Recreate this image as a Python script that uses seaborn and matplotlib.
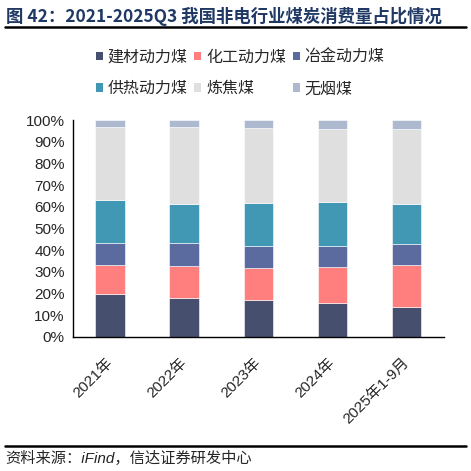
import numpy as np
import matplotlib
matplotlib.use("Agg")
import matplotlib.pyplot as plt
import seaborn as sns
from matplotlib.patches import Patch
from matplotlib.lines import Line2D

sns.set_theme(style="white")
plt.rcParams["font.family"] = ["Liberation Sans", "Noto Sans CJK SC"]

# Data (share of non-power coal consumption, %)
years = ["2021年", "2022年", "2023年", "2024年", "2025年1-9月"]
series = ["建材动力煤", "化工动力煤", "冶金动力煤", "供热动力煤", "炼焦煤", "无烟煤"]
jiancai = [19.7, 18.0, 16.9, 15.4, 13.8]
huagong = [13.4, 14.6, 14.8, 16.8, 19.1]
yejin = [10.3, 10.5, 10.3, 9.6, 10.0]
gongre = [19.7, 18.4, 19.7, 20.5, 18.5]
lianjiao = [33.8, 35.1, 34.8, 33.7, 34.3]
wuyan = [3.1, 3.4, 3.5, 4.0, 4.3]
values = [jiancai, huagong, yejin, gongre, lianjiao, wuyan]
colors = ["#464F6E", "#FF7F7F", "#5B6BA0", "#4198B5", "#DFDFDF", "#ADB9CF"]

fig = plt.figure(figsize=(4.71, 4.71), dpi=100)
ax = fig.add_axes([0.155, 0.285, 0.787, 0.46])

bottom = np.zeros(len(years))
for name, vals, c in zip(series, values, colors):
    sns.barplot(x=years, y=vals, bottom=bottom, color=c, width=0.4,
                edgecolor="white", linewidth=0.4, saturation=1, ax=ax)
    bottom = bottom + np.array(vals)

ax.set_ylim(0, 100)
ax.set_xlim(-0.5, len(years) - 0.5)
ax.set_yticks(np.arange(0, 101, 10))
ax.set_yticklabels([f"{v}%" for v in range(0, 101, 10)], fontsize=11)
ax.set_xticks(range(len(years)))
ax.set_xticklabels(years, fontsize=11, rotation=45, ha="right",
                   va="center", rotation_mode="anchor")
ax.set_xticks(np.arange(-0.5, len(years), 1), minor=True)
ax.tick_params(axis="x", which="major", length=0, pad=17)
ax.tick_params(axis="x", which="minor", length=4, width=1, direction="out", color="black")
ax.tick_params(axis="y", length=4, width=1, direction="out", color="black", pad=2)
for s in ["top", "right"]:
    ax.spines[s].set_visible(False)
for s in ["left", "bottom"]:
    ax.spines[s].set_color("black")
    ax.spines[s].set_linewidth(1)
ax.set_xlabel("")
ax.set_ylabel("")

# legend filled row by row (3 columns)
order = [0, 3, 1, 4, 2, 5]
handles = [Patch(facecolor=colors[i], edgecolor="none") for i in order]
labels = [series[i] for i in order]
fig.legend(handles, labels, loc="center", bbox_to_anchor=(0.51, 0.845), ncol=3,
           frameon=False, handlelength=0.45, handleheight=0.45,
           handletextpad=0.3, columnspacing=0.4, labelspacing=0.9,
           prop={"family": ["Noto Sans CJK SC"], "size": 11.5})

fig.text(0.012, 0.965, "图 42：2021-2025Q3 我国非电行业煤炭消费量占比情况",
         fontsize=12.5, fontweight="bold", color="#1F3864",
         family=["Noto Sans CJK SC"], va="center", ha="left")
fig.add_artist(Line2D([0.01, 0.99], [0.943, 0.943], color="black", lw=1.8))
fig.add_artist(Line2D([0.01, 0.99], [0.053, 0.053], color="black", lw=1.8))
fig.text(0.012, 0.027, "资料来源：iFind，信达证券研发中心", fontsize=11,
         style="italic", family=["Liberation Sans", "Noto Sans CJK SC"],
         va="center", ha="left")

fig.savefig("out.png", dpi=100)
